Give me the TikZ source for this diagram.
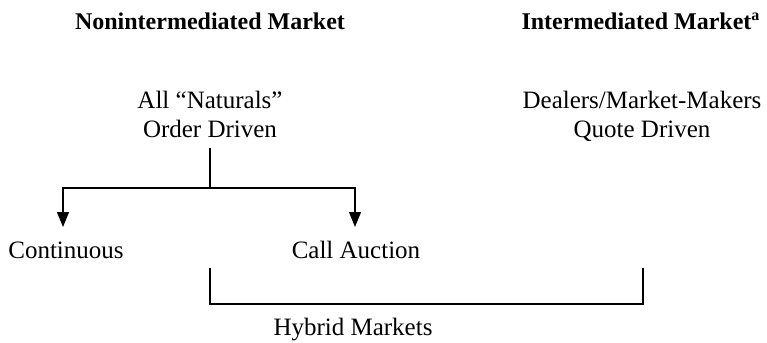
\documentclass[tikz,border=0pt]{standalone}
\usepackage{fontspec}
\setmainfont{Liberation Serif}
\usetikzlibrary{arrows.meta, positioning}

\tikzset{
  mktlabel/.style={font=\fontsize{12.5}{14.5}\selectfont, align=center, anchor=base, inner sep=0pt},
  mkthead/.style={font=\fontsize{12}{14}\selectfont\bfseries, anchor=base, inner sep=0pt},
  branch/.style={line width=0.6pt, -{Triangle[length=7.5pt, width=6pt]}},
  bracket/.style={line width=0.6pt}
}

\begin{document}
\begin{tikzpicture}[x=0.5pt, y=-0.5pt]
  \useasboundingbox (0,0) rectangle (767,343);

  % column headings
  \node[mkthead] (nonint) at (210,29) {Nonintermediated Market};
  \node[mkthead] (inter) at (641,29) {Intermediated Market\textsuperscript{a}};

  % market types
  \node[mktlabel] (naturals) at (210,137) {All ``Naturals''\\Order Driven};
  \node[mktlabel] (dealers) at (642,137) {Dealers/Market-Makers\\Quote Driven};
  \node[mktlabel] (cont) at (66,258) {Continuous};
  \node[mktlabel] (call) at (356,258) {Call Auction};
  \node[mktlabel] (hybrid) at (353,335) {Hybrid Markets};

  % order driven split
  \coordinate (split) at (210,188);
  \coordinate (conttip) at (63,227);
  \coordinate (calltip) at (355,227);
  \draw[bracket] (naturals.south |- 0,148) -- (split);
  \draw[branch] (split) -| (conttip);
  \draw[branch] (split) -| (calltip);

  % hybrid bracket
  \coordinate (hybleft) at (210,268);
  \coordinate (hybright) at (643,268);
  \draw[bracket] (hybleft) |- (426,304) -| (hybright);
\end{tikzpicture}
\end{document}
